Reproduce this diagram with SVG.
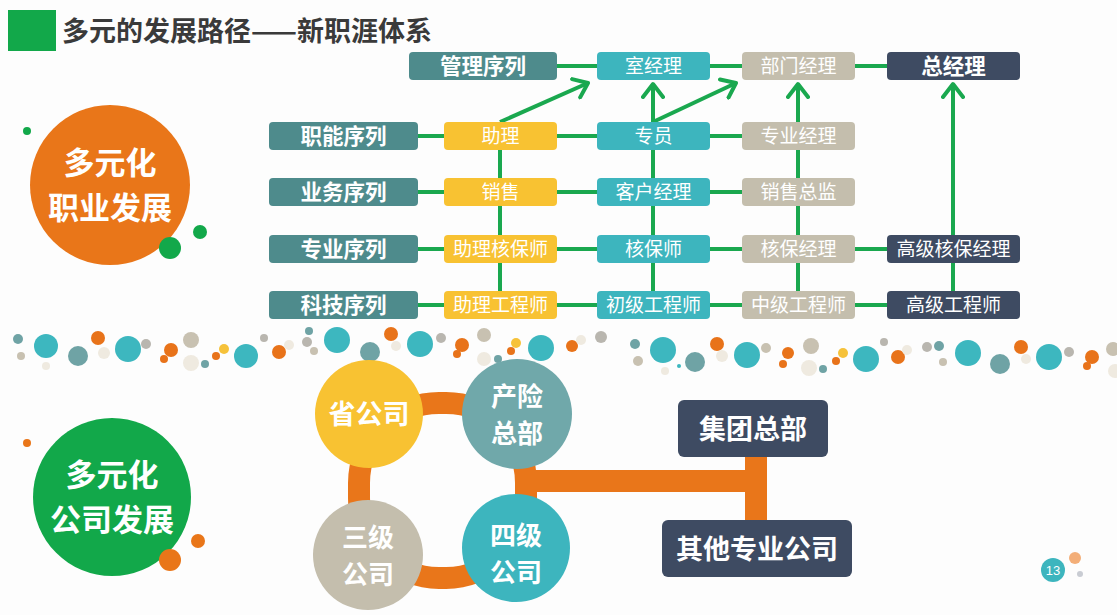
<svg xmlns="http://www.w3.org/2000/svg" width="1117" height="615" viewBox="0 0 1117 615">
<defs>
<marker id="chev" markerUnits="userSpaceOnUse" viewBox="0 0 20 24" markerWidth="20" markerHeight="24" refX="15" refY="12" orient="auto">
<path d="M2,2 L15,12 L2,22" fill="none" stroke="#1AA84F" stroke-width="4" stroke-linecap="round" stroke-linejoin="round"/>
</marker>
</defs>
<style>
text{font-family:"Noto Sans CJK SC","Noto Sans",sans-serif;fill:#fff;text-anchor:middle}
.seq{fill:#4E8B8C}
.yel{fill:#F8C232}
.tea{fill:#3DB5BE}
.bei{fill:#C4BEAD}
.nav{fill:#3E4B62}
.lab{font-size:19px}
.slab{font-size:21.5px;font-weight:bold}
.ln{stroke:#1AA84F;stroke-width:4;fill:none}
.ar{stroke:#1AA84F;stroke-width:4;fill:none;marker-end:url(#chev)}
.ring{stroke:#E9761A;fill:none}
.big{font-size:31px;font-weight:bold}
.mid{font-size:27px;font-weight:bold}
.cir{font-size:26px;font-weight:bold}
.dt{fill:#3DB7BF}.dg{fill:#6FA3A5}.do{fill:#E8731A}.db{fill:#C8C1B1}.dl{fill:#EFEAE0}.dy{fill:#F6C23A}.dz{fill:#B9B6AF}
</style>
<rect width="1117" height="615" fill="#FDFDFD"/>

<g id="title">
<rect x="8" y="10" width="48" height="41" fill="#12A84A"/>
<text x="62" y="41" style="font-size:27px;font-weight:bold;fill:#3A3A3A;text-anchor:start">多元的发展路径——新职涯体系</text>
</g>

<g id="dots">
<circle cx="18" cy="339" r="5" class="dg"/><circle cx="46" cy="346" r="12" class="dt"/><circle cx="21" cy="356" r="4" class="db"/>
<circle cx="78" cy="356" r="10" class="dg"/><circle cx="98" cy="338" r="7" class="do"/><circle cx="104" cy="353" r="6" class="dl"/>
<circle cx="46" cy="366" r="4" class="dl"/><circle cx="128" cy="349" r="13" class="dt"/><circle cx="146" cy="344" r="5" class="dz"/>
<circle cx="171" cy="350" r="7" class="do"/><circle cx="164" cy="359" r="4" class="do"/><circle cx="191" cy="340" r="8" class="db"/>
<circle cx="191" cy="363" r="8" class="dl"/><circle cx="205" cy="364" r="4" class="dg"/><circle cx="216" cy="356" r="4" class="do"/>
<circle cx="224" cy="349" r="5" class="dy"/><circle cx="246" cy="356" r="12" class="dt"/><circle cx="264" cy="338" r="4" class="dz"/>
<circle cx="279" cy="352" r="7" class="do"/><circle cx="289" cy="345" r="5" class="dl"/><circle cx="309" cy="331" r="4" class="dg"/>
<circle cx="307" cy="342" r="5" class="dz"/><circle cx="314" cy="351" r="4" class="db"/><circle cx="337" cy="340" r="13" class="dt"/>
<circle cx="370" cy="352" r="10" class="dg"/><circle cx="391" cy="334" r="7" class="do"/><circle cx="396" cy="346" r="5" class="dl"/>
<circle cx="420" cy="344" r="13" class="dt"/><circle cx="441" cy="338" r="5" class="dz"/><circle cx="462" cy="345" r="7" class="do"/>
<circle cx="457" cy="354" r="4" class="do"/><circle cx="484" cy="335" r="7" class="db"/><circle cx="484" cy="359" r="7" class="dl"/>
<circle cx="516" cy="343" r="5" class="dy"/><circle cx="511" cy="351" r="4" class="do"/><circle cx="498" cy="359" r="4" class="dg"/>
<circle cx="541" cy="348" r="13" class="dt"/>
<circle cx="572" cy="346" r="6" class="do"/><circle cx="581" cy="340" r="5" class="dl"/><circle cx="601" cy="337" r="6" class="dz"/>
<circle cx="635" cy="344" r="5" class="dg"/><circle cx="638" cy="361" r="5" class="db"/><circle cx="663" cy="350" r="13" class="dt"/>
<circle cx="665" cy="371" r="4" class="dl"/><circle cx="679" cy="366" r="2" class="dt"/><circle cx="695" cy="362" r="10" class="dg"/>
<circle cx="717" cy="344" r="7" class="do"/><circle cx="722" cy="356" r="6" class="dl"/><circle cx="747" cy="355" r="13" class="dt"/>
<circle cx="766" cy="348" r="5" class="db"/><circle cx="788" cy="353" r="6" class="do"/><circle cx="783" cy="364" r="4" class="do"/>
<circle cx="811" cy="346" r="8" class="db"/><circle cx="809" cy="368" r="8" class="dl"/><circle cx="823" cy="369" r="4" class="dg"/>
<circle cx="836" cy="361" r="4" class="do"/><circle cx="843" cy="353" r="5" class="dy"/><circle cx="866" cy="359" r="13" class="dt"/>
<circle cx="884" cy="342" r="4" class="dz"/><circle cx="898" cy="357" r="7" class="do"/><circle cx="907" cy="350" r="5" class="dl"/>
<circle cx="927" cy="347" r="5" class="dz"/><circle cx="939" cy="346" r="5" class="dg"/><circle cx="943" cy="362" r="4" class="db"/>
<circle cx="968" cy="353" r="13" class="dt"/><circle cx="1000" cy="364" r="10" class="dg"/><circle cx="1021" cy="347" r="7" class="do"/>
<circle cx="1026" cy="359" r="5" class="dl"/><circle cx="1049" cy="357" r="13" class="dt"/><circle cx="1069" cy="352" r="5" class="dz"/>
<circle cx="1092" cy="357" r="7" class="do"/><circle cx="1087" cy="366" r="4" class="do"/><circle cx="1113" cy="349" r="7" class="db"/>
<circle cx="1115" cy="371" r="7" class="dl"/>
</g>

<g id="badge-career">
<circle cx="27" cy="131" r="4" fill="#12A84A"/>
<circle cx="110" cy="185" r="80" fill="#E97619"/>
<circle cx="200" cy="232" r="7" fill="#12A84A"/>
<circle cx="170" cy="248" r="11" fill="#12A84A"/>
<text x="110" y="174" class="big">多元化</text>
<text x="110" y="219" class="big">职业发展</text>
</g>

<g id="badge-company">
<circle cx="27" cy="443" r="4" fill="#E97619"/>
<circle cx="112" cy="497" r="79" fill="#12A84A"/>
<circle cx="198" cy="541" r="7" fill="#E97619"/>
<circle cx="170" cy="560" r="11" fill="#E97619"/>
<text x="112" y="486" class="big">多元化</text>
<text x="112" y="531" class="big">公司发展</text>
</g>

<g id="connectors">
<path class="ln" d="M557,66H597M710,66H742M855,66H887"/>
<path class="ln" d="M418,136H444M557,136H597M710,136H742"/>
<path class="ln" d="M418,192H444M557,192H597M710,192H742"/>
<path class="ln" d="M418,249H444M557,249H597M710,249H742M855,249H887"/>
<path class="ln" d="M418,305H444M557,305H597M710,305H742M855,305H887"/>
<path class="ln" d="M500,150V291M653,150V291M798,150V291M953,263V291"/>
<line class="ar" x1="653" y1="122" x2="653" y2="84"/>
<line class="ar" x1="798" y1="122" x2="798" y2="84"/>
<line class="ar" x1="953" y1="235" x2="953" y2="84"/>
<line class="ar" x1="500" y1="122" x2="588" y2="83"/>
<line class="ar" x1="653" y1="122" x2="736" y2="83"/>
<rect class="ring" x="359" y="403" width="167" height="175" rx="80" stroke-width="22"/>
<path class="ring" d="M522,481H756V457M756,481V520" stroke-width="22"/>
</g>

<g id="n-guanli"><rect class="seq" x="409" y="52" width="148" height="28" rx="4"/><text x="483" y="74" class="slab">管理序列</text></g>
<g id="n-shijingli"><rect class="tea" x="597" y="52" width="113" height="28" rx="4"/><text x="653.5" y="73" class="lab">室经理</text></g>
<g id="n-bumenjingli"><rect class="bei" x="742" y="52" width="113" height="28" rx="4"/><text x="798.5" y="73" class="lab">部门经理</text></g>
<g id="n-zongjingli"><rect class="nav" x="887" y="52" width="133" height="28" rx="4"/><text x="953.5" y="74" class="slab">总经理</text></g>

<g id="n-zhineng"><rect class="seq" x="269" y="122" width="149" height="28" rx="4"/><text x="343.5" y="144" class="slab">职能序列</text></g>
<g id="n-zhuli"><rect class="yel" x="444" y="122" width="113" height="28" rx="4"/><text x="500.5" y="143" class="lab">助理</text></g>
<g id="n-zhuanyuan"><rect class="tea" x="597" y="122" width="113" height="28" rx="4"/><text x="653.5" y="143" class="lab">专员</text></g>
<g id="n-zhuanyejingli"><rect class="bei" x="742" y="122" width="113" height="28" rx="4"/><text x="798.5" y="143" class="lab">专业经理</text></g>

<g id="n-yewu"><rect class="seq" x="269" y="178" width="149" height="28" rx="4"/><text x="343.5" y="200" class="slab">业务序列</text></g>
<g id="n-xiaoshou"><rect class="yel" x="444" y="178" width="113" height="28" rx="4"/><text x="500.5" y="199" class="lab">销售</text></g>
<g id="n-kehujingli"><rect class="tea" x="597" y="178" width="113" height="28" rx="4"/><text x="653.5" y="199" class="lab">客户经理</text></g>
<g id="n-xiaoshouzongjian"><rect class="bei" x="742" y="178" width="113" height="28" rx="4"/><text x="798.5" y="199" class="lab">销售总监</text></g>

<g id="n-zhuanye"><rect class="seq" x="269" y="235" width="149" height="28" rx="4"/><text x="343.5" y="257" class="slab">专业序列</text></g>
<g id="n-zhulihebaoshi"><rect class="yel" x="444" y="235" width="113" height="28" rx="4"/><text x="500.5" y="256" class="lab">助理核保师</text></g>
<g id="n-hebaoshi"><rect class="tea" x="597" y="235" width="113" height="28" rx="4"/><text x="653.5" y="256" class="lab">核保师</text></g>
<g id="n-hebaojingli"><rect class="bei" x="742" y="235" width="113" height="28" rx="4"/><text x="798.5" y="256" class="lab">核保经理</text></g>
<g id="n-gaojihebaojingli"><rect class="nav" x="887" y="235" width="133" height="28" rx="4"/><text x="953.5" y="256" class="lab">高级核保经理</text></g>

<g id="n-keji"><rect class="seq" x="269" y="291" width="149" height="28" rx="4"/><text x="343.5" y="313" class="slab">科技序列</text></g>
<g id="n-zhiligongchengshi"><rect class="yel" x="444" y="291" width="113" height="28" rx="4"/><text x="500.5" y="312" class="lab">助理工程师</text></g>
<g id="n-chuji"><rect class="tea" x="597" y="291" width="113" height="28" rx="4"/><text x="653.5" y="312" class="lab">初级工程师</text></g>
<g id="n-zhongji"><rect class="bei" x="742" y="291" width="113" height="28" rx="4"/><text x="798.5" y="312" class="lab">中级工程师</text></g>
<g id="n-gaoji"><rect class="nav" x="887" y="291" width="133" height="28" rx="4"/><text x="953.5" y="312" class="lab">高级工程师</text></g>

<g id="n-shenggongsi"><circle cx="369" cy="414" r="54" fill="#F8C232"/><text x="369" y="424" class="mid">省公司</text></g>
<g id="n-chanxian"><circle cx="517" cy="414" r="55" fill="#70A8AA"/><text x="517" y="406" class="cir">产险</text><text x="517" y="443" class="cir">总部</text></g>
<g id="n-sanji"><circle cx="368" cy="555" r="55" fill="#C4BEAD"/><text x="368" y="547" class="cir">三级</text><text x="368" y="584" class="cir">公司</text></g>
<g id="n-siji"><circle cx="516" cy="548" r="54" fill="#3DB5BE"/><text x="516" y="545" class="cir">四级</text><text x="516" y="582" class="cir">公司</text></g>
<g id="n-jituan"><rect class="nav" x="678" y="400" width="150" height="57" rx="6"/><text x="753" y="439" class="mid">集团总部</text></g>
<g id="n-qita"><rect class="nav" x="662" y="520" width="190" height="57" rx="6"/><text x="757" y="559" class="mid">其他专业公司</text></g>

<g id="page">
<circle cx="1075" cy="558" r="6" fill="#F3AE78"/>
<circle cx="1080" cy="574" r="3" fill="#C9CCD3"/>
<circle cx="1053" cy="570" r="12" fill="#3DB5BE"/>
<text x="1053" y="575" style="font-size:13px;font-family:'Liberation Sans',sans-serif">13</text>
</g>
</svg>
